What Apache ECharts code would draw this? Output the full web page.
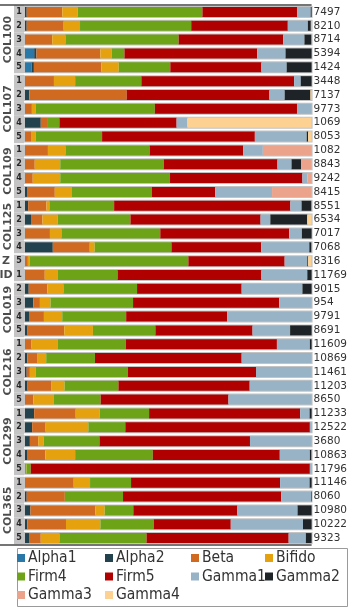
<!DOCTYPE html>
<html>
<head>
<meta charset="utf-8">
<script src="https://cdn.jsdelivr.net/npm/echarts@6/dist/echarts.min.js"></script>
<style>
  html, body { margin: 0; padding: 0; background: #fff; }
  #chart { width: 350px; height: 608px; }
</style>
</head>
<body>
<div id="chart"></div>
<script>
// --- data ---
const groupNames = ["COL100", "COL107", "COL109", "COL125", "Z", "ID", "COL019", "COL216", "COL299", "COL365"];
const groupSizes = [5, 5, 4, 4, 1, 1, 4, 5, 5, 5];
const rowNums = [1, 2, 3, 4, 5, 1, 2, 3, 4, 5, 1, 2, 4, 5, 1, 2, 3, 4, 5, 1, 2, 3, 4, 5, 1, 2, 3, 4, 5, 1, 2, 3, 4, 5, 1, 2, 3, 4, 5];
const totals = [7497, 8210, 8714, 5394, 1424, 3448, 7137, 9773, 1069, 8053, 1082, 8843, 9242, 8415, 8551, 6534, 7017, 7068, 8316, 11769, 9015, 954, 9791, 8691, 11609, 10869, 11461, 11203, 8650, 11233, 12522, 3680, 10863, 11796, 11146, 8060, 10980, 10222, 9323];

const alpha1 = [0, 0, 0, 3.2, 2.3, 0, 0, 0, 0, 0, 0, 0, 0, 0, 0, 0, 0, 0, 0, 0, 0, 0, 0, 0, 0, 0, 0, 0, 0, 0, 0, 0, 0, 0, 0, 0, 0, 0, 0];
const alpha2 = [0.6, 0.6, 0, 0.8, 0.8, 0, 1.5, 0, 5.5, 0, 0, 0, 0, 0.7, 1.1, 2.1, 0, 9.7, 0, 0, 1.3, 2.9, 1.4, 0.9, 0, 0.8, 0.6, 0.9, 0, 3.2, 2.5, 1.7, 0.7, 0, 0, 0.6, 1.9, 0.8, 1.4];
const beta = [12.4, 12.9, 9.5, 22.3, 23.5, 10.1, 34.0, 2.4, 2.5, 2.1, 8.0, 3.4, 2.7, 9.7, 6.4, 4.0, 8.7, 12.9, 1.0, 6.9, 6.5, 2.3, 5.2, 12.8, 2.3, 3.4, 1.1, 8.2, 2.9, 14.5, 4.7, 2.9, 6.4, 0.3, 17.0, 13.3, 22.7, 13.5, 4.1];
const bifido = [5.4, 5.7, 4.6, 4.0, 6.1, 7.4, 0, 1.4, 0, 1.7, 6.1, 8.9, 9.6, 6.0, 1.0, 5.3, 4.0, 1.7, 0.7, 4.6, 5.6, 3.7, 6.4, 10.0, 9.2, 3.2, 2.1, 4.7, 7.2, 8.4, 14.9, 1.9, 10.4, 0.2, 5.7, 0, 3.2, 12.0, 6.5];
const firm4 = [43.5, 38.8, 39.5, 4.4, 18.0, 23.1, 0, 41.5, 4.0, 23.1, 29.4, 36.1, 38.3, 27.9, 22.6, 25.4, 34.5, 26.8, 55.3, 20.8, 25.7, 28.8, 22.3, 21.8, 23.7, 17.0, 32.1, 18.8, 16.3, 17.2, 12.9, 19.5, 27.1, 1.5, 14.3, 20.3, 10.0, 18.6, 30.4];
const firm5 = [33.0, 33.7, 36.5, 46.3, 31.8, 53.3, 49.8, 49.6, 40.9, 53.3, 32.6, 39.7, 46.2, 22.1, 61.5, 45.4, 45.0, 31.3, 33.6, 50.2, 36.5, 51.0, 35.2, 33.9, 52.7, 51.2, 44.7, 45.8, 44.6, 52.7, 64.4, 52.5, 44.3, 97.4, 52.0, 55.2, 36.3, 26.9, 49.6];
const gamma1 = [4.8, 7.0, 7.4, 9.9, 8.8, 2.3, 5.3, 5.2, 3.8, 18.1, 6.9, 4.9, 1.7, 19.8, 3.9, 3.4, 4.4, 16.8, 7.9, 16.0, 21.2, 11.5, 29.6, 13.1, 11.5, 24.4, 19.5, 21.5, 29.1, 3.3, 0.6, 21.5, 10.5, 0.6, 10.3, 10.4, 21.0, 25.2, 6.0];
const gamma2 = [0.3, 1.0, 2.4, 9.2, 8.7, 3.8, 9.0, 0, 0, 0.5, 0, 3.3, 0, 0, 3.4, 12.9, 3.4, 0.7, 0.3, 1.5, 3.2, 0, 0, 7.6, 0.7, 0, 0, 0, 0, 0.7, 0, 0, 0.5, 0, 0.7, 0.2, 4.9, 3.0, 2.1];
const gamma3 = [0, 0, 0, 0, 0, 0, 0, 0, 0, 0, 17.0, 3.6, 1.5, 13.7, 0, 0, 0, 0, 0, 0, 0, 0, 0, 0, 0, 0, 0, 0, 0, 0, 0, 0, 0, 0, 0, 0, 0, 0, 0];
const gamma4 = [0, 0, 0, 0, 0, 0, 0.3, 0, 43.3, 1.3, 0, 0, 0, 0, 0, 1.5, 0, 0, 1.1, 0, 0, 0, 0, 0, 0, 0, 0, 0, 0, 0, 0, 0, 0, 0, 0, 0, 0, 0, 0];

const taxa = [
  { name: "Alpha1", data: alpha1, color: "#2a78a8" },
  { name: "Alpha2", data: alpha2, color: "#22424e" },
  { name: "Beta", data: beta, color: "#cf6a20" },
  { name: "Bifido", data: bifido, color: "#e6a20e" },
  { name: "Firm4", data: firm4, color: "#6ca317" },
  { name: "Firm5", data: firm5, color: "#b00000" },
  { name: "Gamma1", data: gamma1, color: "#98b3c6" },
  { name: "Gamma2", data: gamma2, color: "#1d2326" },
  { name: "Gamma3", data: gamma3, color: "#eba38b" },
  { name: "Gamma4", data: gamma4, color: "#fcd191" },
];
const legendCols = [["Alpha1", "Firm4", "Gamma3"], ["Alpha2", "Firm5", "Gamma4"], ["Beta", "Gamma1"], ["Bifido", "Gamma2"]];
const legendLeft = [17, 105, 191, 265];

// --- layout helpers ---
const rowIds = rowNums.map((_, i) => "r" + i);
const groupStarts = [];
groupSizes.reduce((acc, n) => { groupStarts.push(acc); return acc + n; }, 0);
const idRow = groupStarts[groupNames.indexOf("ID")];
const FONT = "DejaVu Sans";
const TOP = 5, BOTTOM = 63;

const chart = echarts.init(document.getElementById("chart"), null, { renderer: "canvas" });

const mainSeries = taxa.map((t, i) => ({
  name: t.name,
  type: "bar",
  stack: "main",
  xAxisIndex: 0,
  yAxisIndex: 0,
  barWidth: 10,
  data: t.data,
  itemStyle: { color: t.color },
  showBackground: i === 0,
  backgroundStyle: { color: "rgba(0,0,0,0)", borderColor: "#c4c4c4", borderWidth: 2 },
}));

chart.setOption({
  animation: false,
  backgroundColor: "#fff",
  textStyle: { fontFamily: FONT },
  grid: [
    { left: 25, right: 34, top: TOP, bottom: BOTTOM },
    { left: 0, width: 25, top: TOP, bottom: BOTTOM },
  ],
  xAxis: [
    { gridIndex: 0, type: "value", min: 0, max: 100, show: false },
    { gridIndex: 1, type: "value", min: 0, max: 25, show: false },
  ],
  yAxis: [
    {
      gridIndex: 0, type: "category", data: rowIds, inverse: true, z: 3,
      axisLine: { show: false }, axisTick: { show: false }, axisLabel: { show: false },
      splitLine: { show: true, interval: (i) => i === idRow, lineStyle: { color: "#474747", width: 1.5 } },
    },
    {
      gridIndex: 0, type: "category", data: totals.map(String), inverse: true, position: "right",
      axisLine: { show: false }, axisTick: { show: false }, splitLine: { show: false },
      axisLabel: { interval: 0, margin: 2, fontSize: 10.5, color: "#333", fontFamily: FONT },
    },
    {
      gridIndex: 1, type: "category", data: rowIds, inverse: true, z: 3,
      axisLine: { show: false }, axisTick: { show: false }, axisLabel: { show: false },
      splitLine: { show: true, interval: (i) => groupStarts.includes(i) && i !== idRow && i > 0, lineStyle: { color: "#fff", width: 1.5 } },
    },
    {
      gridIndex: 1, type: "category", data: rowIds, inverse: true, z: 4,
      axisLine: { show: false }, axisTick: { show: false }, axisLabel: { show: false },
      splitLine: { show: true, interval: (i) => i === idRow, lineStyle: { color: "#474747", width: 1.5 } },
    },
    { gridIndex: 1, type: "value", min: 0, max: rowNums.length, inverse: true, show: false },
  ],
  legend: legendCols.map((col, i) => ({
    data: col,
    orient: "vertical",
    left: legendLeft[i],
    top: 550,
    padding: 0,
    itemGap: 2.5,
    itemWidth: 8,
    itemHeight: 8,
    icon: "rect",
    selectedMode: false,
    textStyle: { fontSize: 15.5, lineHeight: 15, color: "#333", fontFamily: "DejaVu Sans Condensed", padding: [0, 0, 0, -2] },
  })),
  graphic: [{
    type: "rect",
    left: 15, top: 546,
    shape: { width: 330, height: 58 },
    style: { fill: "none", stroke: "#9a9a9a", lineWidth: 1 },
  }],
  series: [
    ...mainSeries,
    {
      name: "pad", type: "bar", stack: "left", xAxisIndex: 1, yAxisIndex: 2,
      barCategoryGap: 0, data: rowNums.map(() => 14), itemStyle: { color: "rgba(0,0,0,0)" }, silent: true,
    },
    {
      name: "rownum", type: "bar", stack: "left", xAxisIndex: 1, yAxisIndex: 2,
      barCategoryGap: 0, data: rowNums.map(() => 10), itemStyle: { color: "#c4c4c4" }, silent: true,
      label: {
        show: true, position: "inside", fontSize: 8, fontWeight: "bold", color: "#262626", fontFamily: FONT,
        formatter: (p) => String(rowNums[p.dataIndex]),
      },
    },
    {
      name: "groups", type: "scatter", xAxisIndex: 1, yAxisIndex: 4, symbolSize: 0, silent: true,
      data: groupNames.map((g, i) => ({
        value: [groupSizes[i] > 1 ? 8 : 6, groupStarts[i] + groupSizes[i] / 2],
        label: { rotate: groupSizes[i] > 1 ? 90 : 0 },
      })),
      label: {
        show: true, position: "inside", fontSize: 11, fontWeight: "bold", color: "#1f1f1f", fontFamily: FONT,
        formatter: (p) => groupNames[p.dataIndex],
      },
    },
  ],
});
</script>
</body>
</html>
